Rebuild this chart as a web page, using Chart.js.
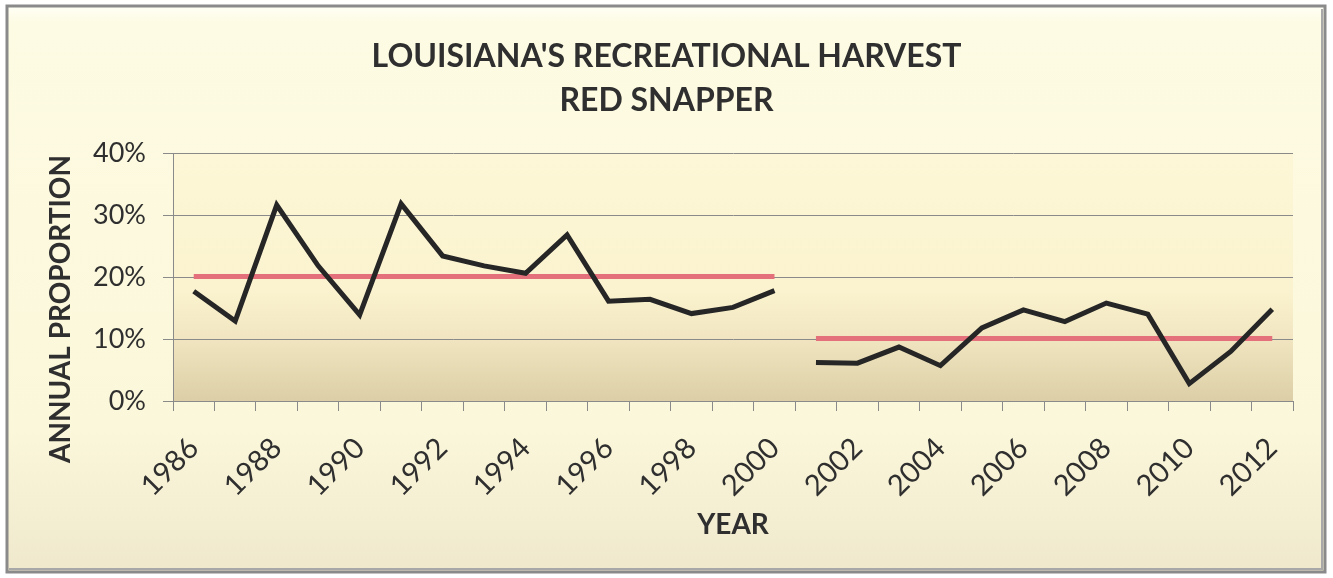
<!DOCTYPE html>
<html>
<head>
<meta charset="utf-8">
<title>Louisiana's Recreational Harvest - Red Snapper</title>
<script src="https://cdn.jsdelivr.net/npm/chart.js@4.4.1/dist/chart.umd.min.js"></script>
<style>
  html, body { margin: 0; padding: 0; background: #fff; }
  #wrap { position: relative; width: 1333px; height: 578px; }
</style>
</head>
<body>
<div id="wrap"><canvas id="harvestChart" width="1333" height="578"></canvas></div>
<script>
const years = [
  "1986", "1987", "1988", "1989", "1990", "1991", "1992", "1993", "1994",
  "1995", "1996", "1997", "1998", "1999", "2000", "2001", "2002", "2003",
  "2004", "2005", "2006", "2007", "2008", "2009", "2010", "2011", "2012"
];
// annual proportion (%), 1986-2000 and 2001-2012
const harvestEarly = [17.7, 12.9, 31.6, 21.8, 13.9, 31.8, 23.4, 21.8, 20.6, 26.8, 16.1, 16.4, 14.1, 15.1, 17.8];
const harvestLate = [6.2, 6.1, 8.7, 5.7, 11.8, 14.7, 12.8, 15.8, 14.0, 2.8, 8.0, 14.8];
// period averages drawn as the red lines
const periodMeans = [20.1, 10.1];
const yTicks = [0, 10, 20, 30, 40];

const titleLines = ["LOUISIANA'S RECREATIONAL HARVEST", "RED SNAPPER"];
const yAxisTitle = "ANNUAL PROPORTION";
const xAxisTitle = "YEAR";

const textColor = "#2f2f2f";
const gridColor = "#8a8a8a";
const fontFamily = "Lato, 'Open Sans', sans-serif";

const splitAt = harvestEarly.length;
const earlySeries = years.map((y, i) => (i < splitAt ? harvestEarly[i] : null));
const lateSeries = years.map((y, i) => (i >= splitAt ? harvestLate[i - splitAt] : null));
const earlyMean = years.map((y, i) => (i < splitAt ? periodMeans[0] : null));
const lateMean = years.map((y, i) => (i >= splitAt ? periodMeans[1] : null));

const backdrop = {
  id: "backdrop",
  beforeDraw(chart) {
    const { ctx, chartArea: a, width, height } = chart;
    ctx.save();
    ctx.fillStyle = "#ffffff";
    ctx.fillRect(0, 0, width, height);

    const g = ctx.createLinearGradient(0, 6, 0, 572);
    g.addColorStop(0, "#fffff6");
    g.addColorStop(0.03, "#fdfbe3");
    g.addColorStop(0.75, "#fbf7da");
    g.addColorStop(1, "#efe8cd");
    ctx.fillStyle = g;
    ctx.fillRect(7, 6, 1318, 566);

    ctx.strokeStyle = "#8a8a8a";
    ctx.lineWidth = 3;
    ctx.strokeRect(7, 6, 1318, 566);
    ctx.strokeStyle = "#a8a8a8";
    ctx.lineWidth = 2;
    ctx.beginPath();
    ctx.moveTo(9, 569);
    ctx.lineTo(1322, 569);
    ctx.lineTo(1322, 9);
    ctx.stroke();

    const p = ctx.createLinearGradient(0, a.top, 0, a.bottom);
    p.addColorStop(0, "#fdf7d7");
    p.addColorStop(0.55, "#fbf3cf");
    p.addColorStop(0.74, "#f1e6c1");
    p.addColorStop(1, "#dccfa7");
    ctx.fillStyle = p;
    ctx.fillRect(a.left, a.top, a.right - a.left, a.bottom - a.top);
    ctx.restore();
  }
};

const yTitle = {
  id: "yTitle",
  afterDraw(chart) {
    const { ctx } = chart;
    ctx.save();
    ctx.translate(61, 309);
    ctx.rotate(-Math.PI / 2);
    ctx.font = "bold 28px " + fontFamily;
    ctx.fillStyle = textColor;
    ctx.textAlign = "center";
    ctx.textBaseline = "middle";
    ctx.fillText(yAxisTitle, 0, 0);
    ctx.restore();
  }
};

const lineStyle = (color, width) => ({
  borderColor: color,
  backgroundColor: color,
  borderWidth: width,
  pointRadius: 0,
  pointHoverRadius: 0,
  fill: false,
  tension: 0,
  borderJoinStyle: "miter",
  borderCapStyle: "butt",
  spanGaps: false
});

new Chart(document.getElementById("harvestChart"), {
  type: "line",
  data: {
    labels: years,
    datasets: [
      { label: "Harvest 1986-2000", data: earlySeries, ...lineStyle("#262626", 5) },
      { label: "Harvest 2001-2012", data: lateSeries, ...lineStyle("#262626", 5) },
      { label: "Mean 1986-2000", data: earlyMean, ...lineStyle("#e4707b", 5) },
      { label: "Mean 2001-2012", data: lateMean, ...lineStyle("#e4707b", 5) }
    ]
  },
  options: {
    responsive: false,
    animation: false,
    devicePixelRatio: 1,
    layout: { padding: { left: 40, right: 40, top: 0, bottom: 0 } },
    plugins: {
      legend: { display: false },
      tooltip: { enabled: false },
      title: {
        display: true,
        text: titleLines,
        color: textColor,
        font: { family: fontFamily, size: 32, weight: "bold", lineHeight: 1.375 },
        padding: { top: 35, bottom: 30 }
      }
    },
    scales: {
      x: {
        offset: true,
        afterFit: (scale) => { scale.height = 177; },
        grid: {
          offset: true,
          drawOnChartArea: false,
          drawTicks: true,
          tickLength: 10,
          color: gridColor
        },
        border: { display: true, color: gridColor },
        ticks: {
          autoSkip: false,
          minRotation: 45,
          maxRotation: 45,
          padding: 20,
          color: textColor,
          font: { family: fontFamily, size: 29 },
          callback: (value, index) => (index % 2 === 0 ? years[index] : "")
        },
        title: {
          display: true,
          text: xAxisTitle,
          color: textColor,
          font: { family: fontFamily, size: 28, weight: "bold" },
          padding: { top: 0, bottom: 36 }
        }
      },
      y: {
        min: 0,
        max: 40,
        afterFit: (scale) => { scale.width = 133; },
        afterBuildTicks: (scale) => { scale.ticks = yTicks.map(v => ({ value: v })); },
        grid: {
          color: gridColor,
          lineWidth: 1,
          drawTicks: true,
          tickLength: 10
        },
        border: { display: true, color: gridColor },
        ticks: {
          padding: 17,
          color: textColor,
          font: { family: fontFamily, size: 27 },
          callback: (value) => value + "%"
        }
      }
    }
  },
  plugins: [backdrop, yTitle]
});
</script>
</body>
</html>
